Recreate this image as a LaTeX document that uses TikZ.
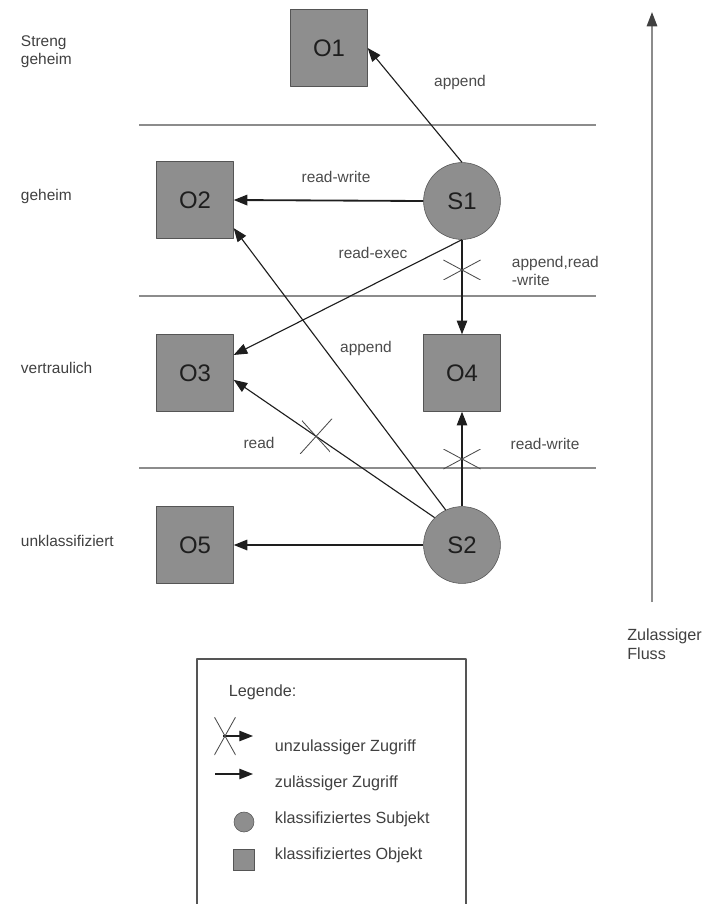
\documentclass[tikz,border=0pt]{standalone}
\usepackage{fontspec}
\setmainfont{Liberation Sans}
\usetikzlibrary{arrows.meta}
\definecolor{boxgray}{HTML}{8E8E8E}
\definecolor{rim}{HTML}{555555}
\definecolor{ink}{HTML}{1E1E1E}
\definecolor{rule}{HTML}{8C8C8C}
\tikzset{fig/.style={line join=round,>={Triangle[length=3.4mm,width=2.6mm]}},
  obj/.style={draw=rim,fill=boxgray,minimum size=1.92cm,inner sep=0pt,font=\fontsize{17}{20}\selectfont,text=ink},
  subj/.style={obj,circle},
  lane/.style={anchor=west,align=left,font=\fontsize{11}{13}\selectfont,text=ink!85},
  lbl/.style={font=\fontsize{11}{13}\selectfont,text=ink!80},
  leg/.style={anchor=west,font=\fontsize{11.5}{14}\selectfont,text=ink!85},
  acc/.style={ink,->,line width=0.8pt},
  xmark/.style 2 args={minimum width=#1,minimum height=#2,inner sep=0pt,
    path picture={\draw[-,ink!80,line width=0.6pt](path picture bounding box.north west)--(path picture bounding box.south east)
      (path picture bounding box.south west)--(path picture bounding box.north east);}}}

\begin{document}
\begin{tikzpicture}[fig,x=0.025cm,y=-0.025cm]
  \useasboundingbox(0,0)rectangle(703,904);
  % levels
  \foreach \y in {125,296,468}\draw[rule,line width=1.4pt](139,\y)--(596,\y);
  \node[lane](l1)at(16,52){Streng\\geheim};
  \node[lane](l2)at(16,196){geheim};
  \node[lane](l3)at(16,368){vertraulich};
  \node[lane](l4)at(16,541){unklassifiziert};
  % subjects and objects
  \node[obj](O1)at(329,48){O1};
  \node[obj](O2)at(195,200){O2};
  \node[subj](S1)at(462,201){S1};
  \node[obj](O3)at(195,373){O3};
  \node[obj](O4)at(462,373){O4};
  \node[obj](O5)at(195,545){O5};
  \node[subj](S2)at(462,545){S2};
  % access
  \draw[acc](S1.north)--(O1.east);
  \draw[acc,line width=1.3pt](S1.west)--(O2.east);
  \draw[acc](S1.south)--(O3.25);
  \draw[acc](S1.south)--(O4.north)node[pos=0.32,xmark={0.93cm}{0.5cm}](x1){};
  \draw[acc](S2.115)--(O2.-36);
  \draw[acc](S2.135)--(O3.-10)node[pos=0.59,xmark={0.88cm}{1.05cm},rotate=-15](x2){};
  \draw[acc](S2.north)--(O4.south)node[pos=0.5,xmark={0.93cm}{0.5cm}](x3){};
  \draw[acc,line width=1.3pt](S2.west)--(O5.east);
  \node[lbl](a1)at(460,82){append};
  \node[lbl](a2)at(336,177){read-write};
  \node[lbl](a3)at(373,253){read-exec};
  \node[lbl,anchor=west,align=left](a4)at(507,271){append,read\\-write};
  \node[lbl](a5)at(366,348){append};
  \node[lbl](a6)at(259,443){read};
  \node[lbl](a7)at(545,444){read-write};
  % flow
  \coordinate(f0)at(652,602);
  \coordinate(f1)at(652,12);
  \draw[rule,line width=1.4pt,-{Triangle[length=3.6mm,width=2.6mm,color=ink!85]}](f0)--(f1);
  \node[leg,align=left,anchor=north west,inner sep=0pt](fl)at(627,628){Zulassiger\\Fluss};
  % legend
  \draw[rim,line width=1pt](197,904)|-(466,659)--(466,904);
  \node[leg](lg)at(224,692){Legende:};
  \coordinate(la0)at(223,736);
  \coordinate(la1)at(253,736);
  \draw[acc](la0)--(la1);
  \node[xmark={0.53cm}{0.95cm}](lx)at(225,736){};
  \node[leg](lt1)at(270,747){unzulassiger Zugriff};
  \coordinate(lb0)at(215,774);
  \coordinate(lb1)at(253,774);
  \draw[acc](lb0)--(lb1);
  \node[leg](lt2)at(270,783){zulässiger Zugriff};
  \node[subj,minimum size=0.5cm](ls)at(244,822){};
  \node[leg](lt3)at(270,819){klassifiziertes Subjekt};
  \node[obj,minimum size=0.53cm](lo)at(244,860){};
  \node[leg](lt4)at(270,855){klassifiziertes Objekt};
\end{tikzpicture}
\end{document}
